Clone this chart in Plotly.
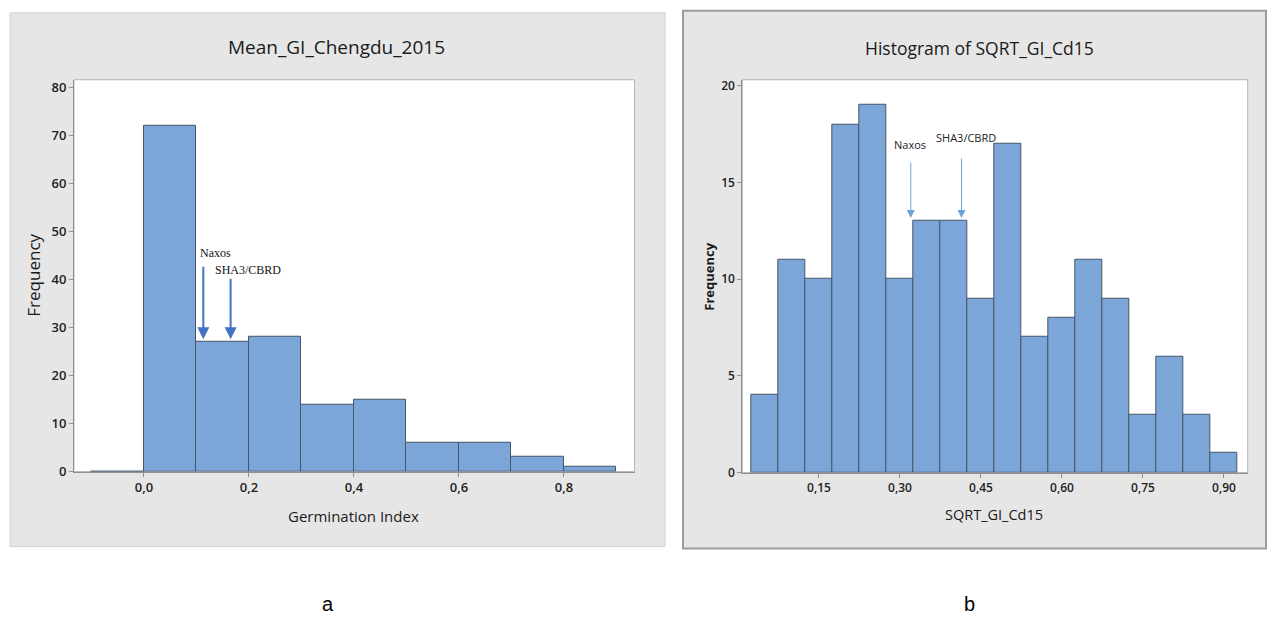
import plotly.graph_objects as go

W, H = 1267, 617

# ---- panel a: Mean_GI_Chengdu_2015 (bins of width 0.1) ----
a_bin_left = [-0.1, 0.0, 0.1, 0.2, 0.3, 0.4, 0.5, 0.6, 0.7, 0.8]
a_counts = [0, 72, 27, 28, 14, 15, 6, 6, 3, 1]
a_bin_width = 0.1
a_marks = ["Naxos", "SHA3/CBRD"]
a_mark_x = [0.113, 0.165]
a_mark_tip = [27.6, 27.6]
a_mark_tail = [43.0, 40.5]
a_mark_label_x = [0.102, 0.131]
a_mark_label_y = [45.6, 42.0]

# ---- panel b: Histogram of SQRT_GI_Cd15 (bins of width 0.05) ----
b_bin_mid = [0.05, 0.10, 0.15, 0.20, 0.25, 0.30, 0.35, 0.40, 0.45,
             0.50, 0.55, 0.60, 0.65, 0.70, 0.75, 0.80, 0.85, 0.90]
b_counts = [4, 11, 10, 18, 19, 10, 13, 13, 9, 17, 7, 8, 11, 9, 3, 6, 3, 1]
b_bin_width = 0.05
b_marks = ["Naxos", "SHA3/CBRD"]
b_mark_x = [0.320, 0.414]
b_mark_tip = [13.15, 13.15]
b_mark_tail = [16.1, 16.3]
b_mark_label_x = [0.318, 0.423]
b_mark_label_y = [16.95, 17.3]


def px(x):
    return x / W


def py(y):
    # pixel row -> paper fraction, with a small vertical calibration
    y = (y - 2.2) / 0.981
    return 1 - y / H


BAR_FILL = "#7ca5d8"
BAR_EDGE = "#46566a"
AXIS_GRAY = "#8f8f8f"
SANS = "Open Sans, Noto Sans, DejaVu Sans, sans-serif"

fig = go.Figure()

fig.add_trace(go.Bar(
    x=a_bin_left, y=a_counts, width=[a_bin_width] * len(a_counts), offset=0,
    marker=dict(color=BAR_FILL, line=dict(color=BAR_EDGE, width=1)),
    xaxis="x", yaxis="y", showlegend=False, hoverinfo="x+y",
))
fig.add_trace(go.Bar(
    x=b_bin_mid, y=b_counts, width=[b_bin_width] * len(b_counts),
    marker=dict(color=BAR_FILL, line=dict(color=BAR_EDGE, width=1)),
    xaxis="x2", yaxis="y2", showlegend=False, hoverinfo="x+y",
))


def axis_style(size):
    return dict(
        showgrid=False, zeroline=False, showline=True, linecolor=AXIS_GRAY,
        linewidth=1, ticks="outside", ticklen=4, tickcolor=AXIS_GRAY,
        tickfont=dict(family=SANS, size=size, color="#222222", weight=600),
    )


fig.update_layout(
    width=W, height=H,
    margin=dict(l=0, r=0, t=0, b=0),
    paper_bgcolor="white",
    plot_bgcolor="rgba(0,0,0,0)",
    separators=",.",
    bargap=0,
    xaxis=dict(domain=[px(74), px(634.5)], range=[-0.1333, 0.9343],
               tick0=0, dtick=0.2, tickformat=".1f", anchor="y",
               **axis_style(13)),
    yaxis=dict(domain=[py(471), py(79)], range=[0, 81.67],
               tick0=0, dtick=10, anchor="x", **axis_style(13)),
    xaxis2=dict(domain=[px(742.3), px(1247.7)], range=[0.008, 0.944],
                tick0=0, dtick=0.15, tickformat=".2f", anchor="y2",
                **axis_style(12)),
    yaxis2=dict(domain=[py(472), py(79)], range=[0, 20.3],
                tick0=0, dtick=5, anchor="x2", **axis_style(12)),
)

# grey frames around each graph, white data regions
shapes = [
    dict(type="rect", xref="paper", yref="paper", layer="below",
         x0=px(10), x1=px(665), y0=py(546), y1=py(12),
         fillcolor="#e6e6e6", line=dict(color="#d2d2d2", width=1)),
    dict(type="rect", xref="paper", yref="paper", layer="below",
         x0=px(683), x1=px(1266), y0=py(548), y1=py(10),
         fillcolor="#e6e6e6", line=dict(color="#9c9c9c", width=2)),
    dict(type="rect", xref="x domain", yref="y domain", layer="below",
         x0=0, x1=1, y0=0, y1=1,
         fillcolor="white", line=dict(color="#b5b5b5", width=1)),
    dict(type="rect", xref="x2 domain", yref="y2 domain", layer="below",
         x0=0, x1=1, y0=0, y1=1,
         fillcolor="white", line=dict(color="#b5b5b5", width=1)),
]
fig.update_layout(shapes=shapes)

ann = []
# titles and axis titles
ann.append(dict(text="Mean_GI_Chengdu_2015", x=px(336.5), y=py(46.5),
                font=dict(family=SANS, size=19, color="#1a1a1a")))
ann.append(dict(text="Germination Index", x=px(353), y=py(515),
                font=dict(family=SANS, size=15, color="#1a1a1a")))
ann.append(dict(text="Frequency", x=px(34), y=py(275), textangle=-90,
                font=dict(family=SANS, size=17, color="#1a1a1a")))
ann.append(dict(text="Histogram of SQRT_GI_Cd15", x=px(979), y=py(47.5),
                font=dict(family=SANS, size=17.5, color="#1a1a1a")))
ann.append(dict(text="SQRT_GI_Cd15", x=px(994), y=py(514),
                font=dict(family=SANS, size=14.5, color="#1a1a1a")))
ann.append(dict(text="<b>Frequency</b>", x=px(709), y=py(276), textangle=-90,
                font=dict(family=SANS, size=13, color="#1a1a1a")))
# panel captions
ann.append(dict(text="a", x=px(328), y=py(603),
                font=dict(family="Liberation Sans, Arial, sans-serif", size=20, color="black")))
ann.append(dict(text="b", x=px(970), y=py(603),
                font=dict(family="Liberation Sans, Arial, sans-serif", size=20, color="black")))
for a in ann:
    a.update(xref="paper", yref="paper", showarrow=False,
             xanchor="center", yanchor="middle")

# marker arrows and labels, panel a
for name, xv, tip, tail, lx, ly in zip(a_marks, a_mark_x, a_mark_tip, a_mark_tail,
                                       a_mark_label_x, a_mark_label_y):
    ann.append(dict(x=xv, y=tip, ax=xv, ay=tail, xref="x", yref="y",
                    axref="x", ayref="y", text="", showarrow=True,
                    arrowhead=2, arrowsize=1.2, arrowwidth=2,
                    arrowcolor="#4472c4"))
    ann.append(dict(x=lx, y=ly, xref="x", yref="y", text=name,
                    showarrow=False, xanchor="left", yanchor="middle",
                    font=dict(family="Liberation Serif, Times New Roman, serif",
                              size=12, color="#111111")))

# marker arrows and labels, panel b
for name, xv, tip, tail, lx, ly in zip(b_marks, b_mark_x, b_mark_tip, b_mark_tail,
                                       b_mark_label_x, b_mark_label_y):
    ann.append(dict(x=xv, y=tip, ax=xv, ay=tail, xref="x2", yref="y2",
                    axref="x2", ayref="y2", text="", showarrow=True,
                    arrowhead=2, arrowsize=1.6, arrowwidth=1,
                    arrowcolor="#6fa3d8"))
    ann.append(dict(x=lx, y=ly, xref="x2", yref="y2", text=name,
                    showarrow=False, xanchor="center", yanchor="middle",
                    font=dict(family=SANS, size=11, color="#222222")))

fig.update_layout(annotations=ann)

fig.write_html("out.html")
